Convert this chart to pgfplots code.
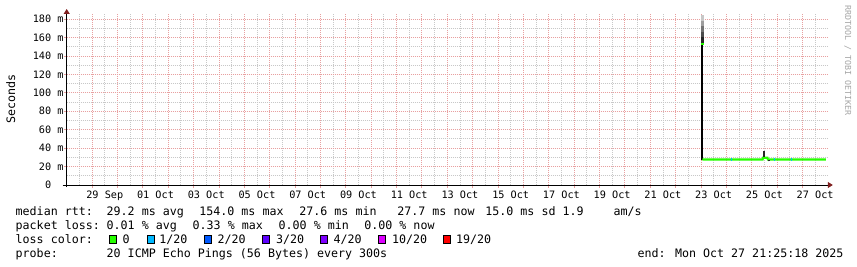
\documentclass[border=0pt]{standalone}
\usepackage{pgfplots}
\pgfplotsset{compat=1.18}
\usepackage{fontspec}
\setmainfont{DejaVu Sans Mono}
\setmonofont{DejaVu Sans Mono}
\usetikzlibrary{arrows.meta}
\definecolor{gridred}{HTML}{E8A0A0}
\definecolor{gridgray}{HTML}{C8C8C8}
\definecolor{arrowred}{HTML}{801F1F}
\definecolor{loss0}{HTML}{26FF00}
\definecolor{loss1}{HTML}{00B8FF}
\definecolor{loss2}{HTML}{0059FF}
\definecolor{loss3}{HTML}{5E00FF}
\definecolor{loss4}{HTML}{7E00FF}
\definecolor{loss10}{HTML}{DD00FF}
\definecolor{loss19}{HTML}{FF0000}
\newcommand\legfont{\fontsize{11.65bp}{14bp}\selectfont}
\newcommand\axfont{\fontsize{10.2bp}{12bp}\selectfont}
\begin{document}
\begin{tikzpicture}
\path[use as bounding box, fill=white] (0bp,0bp) rectangle (857bp,-267bp);
\begin{axis}[
  at={(66.7bp,-185bp)}, anchor=south west,
  scale only axis, width=761.1bp, height=171.5bp,
  xmin=0, xmax=30, ymin=0, ymax=186,
  axis lines=left,
  axis line style={black, line width=1bp},
  x axis line style={-{Triangle[length=5bp,width=6bp,color=arrowred]}, shorten >=-5bp, shorten <=-4bp},
  y axis line style={-{Triangle[length=5bp,width=6bp,color=arrowred]}, shorten >=-4.5bp, shorten <=-2bp},
  grid=both,
  major grid style={gridred, line width=0.8bp, dash pattern=on 1bp off 1bp},
  minor grid style={gridgray, line width=0.8bp, dash pattern=on 1bp off 1bp},
  xtick={1,...,29},
  minor xtick={0.5,1.5,...,29.5},
  xticklabels={},
  extra x ticks={1.5,3.5,...,29.5},
  extra x tick labels={29 Sep,01 Oct,03 Oct,05 Oct,07 Oct,09 Oct,11 Oct,13 Oct,15 Oct,17 Oct,19 Oct,21 Oct,23 Oct,25 Oct,27 Oct},
  extra x tick style={grid=none, major tick length=0bp},
  ytick={0,20,...,180},
  minor ytick={10,30,...,170},
  yticklabels={0\hphantom{mm},20 m,40 m,60 m,80 m,100 m,120 m,140 m,160 m,180 m},
  tick align=outside,
  major tick length=3bp, minor tick length=0bp,
  tick style={gridred, line width=0.8bp},
  xticklabel style={font=\axfont, anchor=base, inner sep=0pt, yshift=-13.3bp},
  yticklabel style={font=\axfont, anchor=east, inner sep=0pt},
  clip=false,
]
% smoke of the first spike
\addplot[draw=black!22, line width=2.7bp] coordinates {(25.05,178) (25.05,184)};
\addplot[draw=black!38, line width=2.7bp] coordinates {(25.05,172) (25.05,178)};
\addplot[draw=black!55, line width=2.7bp] coordinates {(25.05,166) (25.05,172)};
\addplot[draw=black!70, line width=2.7bp] coordinates {(25.05,160) (25.05,166)};
\addplot[draw=black!85, line width=2.7bp] coordinates {(25.05,154) (25.05,160)};
\addplot[draw=black, line width=2bp] coordinates {(25.05,27.0) (25.05,154)};
\addplot[draw=loss0, line width=2.7bp] coordinates {(25.05,151.8) (25.05,154)};
% median line
\addplot[draw=loss0, line width=2.2bp] coordinates {(25.06,27.7) (27.43,27.7) (27.45,29.6) (27.62,29.6) (27.64,27.7) (29.92,27.7)};
% smoke of the small bump
\addplot[draw=black!85, line width=1.8bp] coordinates {(27.49,30.2) (27.49,37)};
\addplot[draw=black!85, line width=1.5bp] coordinates {(27.68,25.6) (27.68,26.6)};
% 1/20 loss
\addplot[draw=loss1, line width=2.2bp] coordinates {(26.20,27.7) (26.24,27.7)};
\addplot[draw=loss1, line width=2.2bp] coordinates {(27.86,27.7) (27.90,27.7)};
\addplot[draw=loss1, line width=2.2bp] coordinates {(28.53,27.7) (28.57,27.7)};
\end{axis}
% unit label and watermark
\node[rotate=90, anchor=base, inner sep=0pt] at (15bp,-99bp) {\legfont Seconds};
\node[rotate=-90, anchor=base west, inner sep=0pt, text=black!35] at (845bp,-5bp) {\fontsize{8.3bp}{10bp}\selectfont RRDTOOL / TOBI OETIKER};
% legend
\begin{scope}[every node/.style={anchor=base west, inner sep=0pt, font=\legfont}]
\node at (15.5bp,-215bp) {median rtt:};
\node at (106.5bp,-215bp) {29.2 ms avg};
\node at (199.2bp,-215bp) {154.0 ms max};
\node at (299.2bp,-215bp) {27.6 ms min};
\node at (397.2bp,-215bp) {27.7 ms now};
\node at (485.2bp,-215bp) {15.0 ms sd};
\node at (562.5bp,-215bp) {1.9};
\node at (613.5bp,-215bp) {am/s};
\node at (15.5bp,-229bp) {packet loss:};
\node at (106.5bp,-229bp) {0.01 \% avg};
\node at (192.5bp,-229bp) {0.33 \% max};
\node at (278.5bp,-229bp) {0.00 \% min};
\node at (364.2bp,-229bp) {0.00 \% now};
\node at (15.5bp,-243bp) {loss color:};
\node at (122.5bp,-243bp) {0};
\node at (159.2bp,-243bp) {1/20};
\node at (217.5bp,-243bp) {2/20};
\node at (275.9bp,-243bp) {3/20};
\node at (333.5bp,-243bp) {4/20};
\node at (391.9bp,-243bp) {10/20};
\node at (455.9bp,-243bp) {19/20};
\node at (15.5bp,-257bp) {probe:};
\node at (106.5bp,-257bp) {20 ICMP Echo Pings (56 Bytes) every 300s};
\node at (637.5bp,-257bp) {end: Mon Oct 27 21:25:18 2025};
\end{scope}
\begin{scope}[line width=0.8bp]
\draw[fill=loss0] (109.4bp,-235.4bp) rectangle ++(6.8bp,-7.6bp);
\draw[fill=loss1] (147.1bp,-235.4bp) rectangle ++(6.8bp,-7.6bp);
\draw[fill=loss2] (204.4bp,-235.4bp) rectangle ++(6.8bp,-7.6bp);
\draw[fill=loss3] (262.1bp,-235.4bp) rectangle ++(6.8bp,-7.6bp);
\draw[fill=loss4] (320.4bp,-235.4bp) rectangle ++(6.8bp,-7.6bp);
\draw[fill=loss10] (378.1bp,-235.4bp) rectangle ++(6.8bp,-7.6bp);
\draw[fill=loss19] (443.1bp,-235.4bp) rectangle ++(6.8bp,-7.6bp);
\end{scope}
\end{tikzpicture}
\end{document}
